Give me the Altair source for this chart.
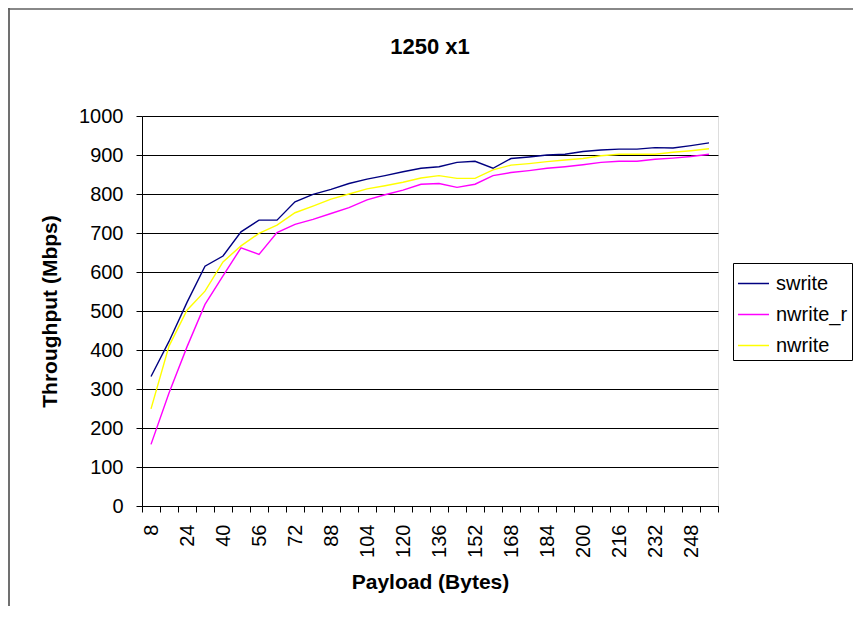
import altair as alt
import pandas as pd

cats = [8, 16, 24, 32, 40, 48, 56, 64, 72, 80, 88, 96, 104, 112, 120, 128,
        136, 144, 152, 160, 168, 176, 184, 192, 200, 208, 216, 224, 232, 240, 248, 256]
swrite = [332, 422, 522, 615, 641, 703, 733, 733, 780, 799, 812, 827, 838, 847, 857, 866,
          870, 881, 884, 866, 891, 895, 900, 902, 909, 913, 915, 915, 919, 918, 924, 931]
nwrite_r = [158, 290, 408, 517, 590, 662, 645, 701, 722, 735, 750, 765, 785, 798, 810, 825,
            827, 817, 825, 847, 855, 860, 866, 870, 875, 881, 884, 884, 889, 892, 896, 902]
nwrite = [249, 410, 502, 551, 626, 667, 699, 720, 752, 769, 787, 800, 813, 821, 830, 841,
          847, 840, 840, 862, 874, 878, 883, 887, 891, 898, 902, 902, 902, 907, 911, 916]

series_names = ["swrite", "nwrite_r", "nwrite"]
series_colors = ["#000080", "#FF00FF", "#FFFF00"]
y_ticks = [0, 100, 200, 300, 400, 500, 600, 700, 800, 900, 1000]

rows = []
for name, vals in zip(series_names, [swrite, nwrite_r, nwrite]):
    for c, v in zip(cats, vals):
        rows.append({"payload": c, "throughput": v, "series": name})
df = pd.DataFrame(rows)

FONT = "Liberation Sans"

lines = alt.Chart(df).mark_line(strokeWidth=1.4).encode(
    x=alt.X("payload:O",
            scale=alt.Scale(type="band", paddingInner=0, paddingOuter=0),
            sort=cats,
            axis=alt.Axis(title="Payload (Bytes)", labelAngle=270,
                          labelExpr="(datum.value - 8) % 16 === 0 ? datum.label : ''",
                          labelOverlap=False, labelBound=False,
                          tickBand="extent", grid=False, tickSize=6,
                          labelPadding=12, labelFontSize=20, labelFont=FONT,
                          titleFontSize=21, titleFont=FONT, titleFontWeight="bold",
                          titleY=76, titleBaseline="middle",
                          domainColor="#000000", tickColor="#000000",
                          labelColor="#000000", titleColor="#000000")),
    y=alt.Y("throughput:Q",
            scale=alt.Scale(domain=[0, 1000], nice=False),
            axis=alt.Axis(title="Throughput (Mbps)", values=y_ticks, format="d",
                          grid=True, gridColor="#000000", gridWidth=1,
                          tickSize=6, labelPadding=13, labelFontSize=20, labelFont=FONT,
                          titleFontSize=21, titleFont=FONT, titleFontWeight="bold",
                          titleX=-92, titleBaseline="middle",
                          domainColor="#000000", tickColor="#000000",
                          labelColor="#000000", titleColor="#000000")),
    color=alt.Color("series:N",
                    scale=alt.Scale(domain=series_names, range=series_colors),
                    legend=alt.Legend(title=None, orient="none", legendX=591, legendY=147,
                                      symbolType="stroke", symbolSize=961,
                                      symbolStrokeWidth=1.5, labelFontSize=20,
                                      labelFont=FONT, labelColor="#000000",
                                      labelOffset=6, rowPadding=4, padding=4,
                                      strokeColor="#000000", fillColor="#FFFFFF")),
)

frame_left = alt.Chart(alt.Data(values=[{}])).mark_rule(color="#404040", strokeWidth=1.5).encode(
    x=alt.value(-133), y=alt.value(-108), y2=alt.value(500))
frame_top = alt.Chart(alt.Data(values=[{}])).mark_rule(color="#606060", strokeWidth=1.5).encode(
    x=alt.value(-134), x2=alt.value(720), y=alt.value(-107))

chart = alt.layer(lines, frame_left, frame_top).properties(
    width=576, height=390,
    title=alt.TitleParams("1250 x1", fontSize=22, fontWeight="bold", font=FONT,
                          anchor="middle", color="#000000", offset=0,
                          baseline="alphabetic", dy=69),
    autosize=alt.AutoSizeParams(type="none"),
    padding={"left": 134, "top": 108, "right": 135, "bottom": 100},
).configure_view(fill="#C0C0C0", stroke="#808080").configure(background="#FFFFFF")

chart.save("out.html", embed_options={"renderer": "svg", "actions": False})
